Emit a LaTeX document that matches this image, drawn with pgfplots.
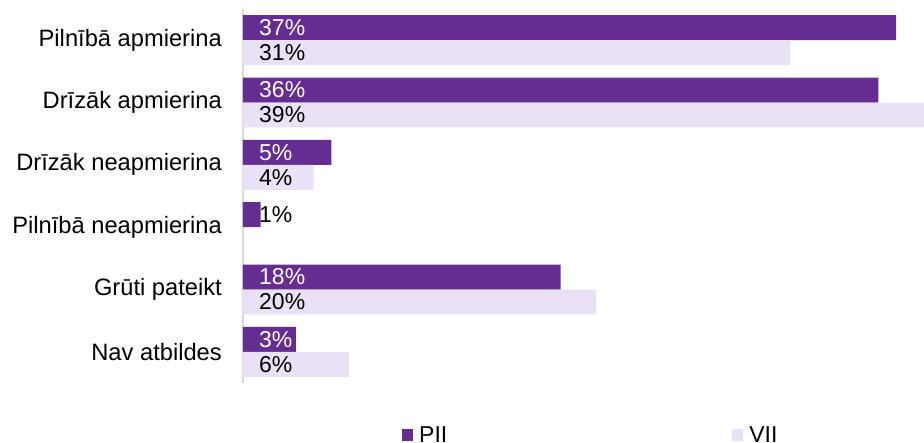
\documentclass[border=0pt]{standalone}
\usepackage{pgfplots}
\pgfplotsset{compat=1.18}
\usepackage{fontspec}
\setmainfont{Liberation Sans}
\definecolor{pii}{HTML}{662D91}
\definecolor{vii}{HTML}{EBE1F6}
\definecolor{axgray}{HTML}{D9D9D9}
\begin{document}
\begin{tikzpicture}
\begin{axis}[
  name=ax,
  scale only axis, width=681pt, height=374pt,
  xmin=0, xmax=38.58, ymin=-0.5, ymax=5.5, y dir=reverse,
  axis x line=none, axis y line*=left,
  y axis line style={draw=axgray, line width=2pt},
  xtick=\empty,
  ytick={0,1,2,3,4,5},
  yticklabels={Pilnībā apmierina, Drīzāk apmierina, Drīzāk neapmierina, Pilnībā neapmierina, Grūti pateikt, Nav atbildes},
  major tick length=0pt,
  yticklabel style={anchor=east, inner sep=0pt, xshift=-21pt, font=\fontsize{23.7}{26}\selectfont},
  legend columns=2,
  legend style={at={(0.2335,-0.139)}, anchor=west, draw=none, inner sep=0pt,
    font=\fontsize{23}{26}\selectfont,
    /tikz/every even column/.append style={column sep=283pt}},
  legend image code/.code={\fill[#1] (0pt,-6pt) rectangle (11pt,6pt); \path (0pt,0pt) -- (15pt,0pt);},
]
\addplot[xbar, bar width=0.4, bar shift=0pt, fill=pii, draw=none]
  coordinates {(37,-0.2) (36,0.8) (5,1.8) (1,2.8) (18,3.8) (3,4.8)};
\addplot[xbar, bar width=0.4, bar shift=0pt, fill=vii, draw=none]
  coordinates {(31,0.2) (39,1.2) (4,2.2) (20,4.2) (6,5.2)};
\legend{PII, VII}
\addplot[forget plot, draw=none, mark=none, nodes near coords={\pgfplotspointmeta\%},
  point meta=explicit symbolic, nodes near coords align={horizontal},
  every node near coord/.append style={anchor=west, xshift=16pt, inner sep=0pt, text=white, font=\fontsize{23}{26}\selectfont}]
  table[meta=l] {
x y l
0 -0.2 37
0 0.8 36
0 1.8 5
0 4.8 3
0 3.8 18
};
\addplot[forget plot, draw=none, mark=none, nodes near coords={\pgfplotspointmeta\%},
  point meta=explicit symbolic, nodes near coords align={horizontal},
  every node near coord/.append style={anchor=west, xshift=16pt, inner sep=0pt, text=black, font=\fontsize{23}{26}\selectfont}]
  table[meta=l] {
x y l
0 0.2 31
0 1.2 39
0 2.2 4
0 2.8 1
0 4.2 20
0 5.2 6
};
\end{axis}
\pgfresetboundingbox
\path (ax.south west) ++(-243pt,-60pt) rectangle ++(924pt,443pt);
\end{tikzpicture}
\end{document}
